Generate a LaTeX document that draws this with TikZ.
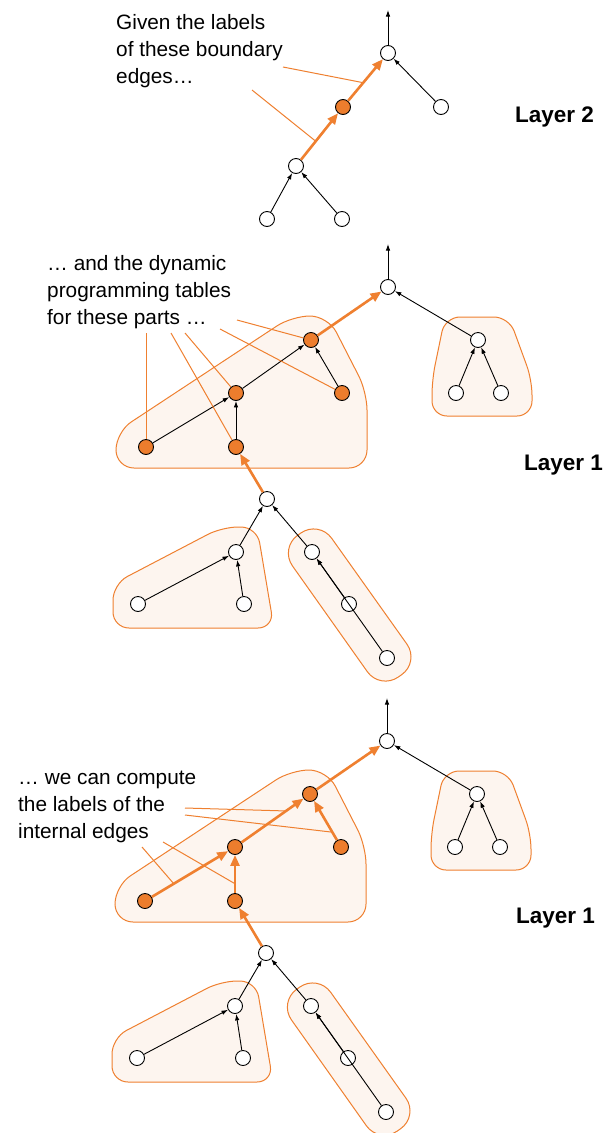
\documentclass[tikz,border=0pt]{standalone}
\usepackage{fontspec}
\setmainfont{Liberation Sans}
\usetikzlibrary{arrows.meta,calc}
\definecolor{org}{RGB}{239,128,48}
\definecolor{orgfill}{RGB}{237,125,45}
\definecolor{blobfill}{RGB}{253,245,239}
\tikzset{
  vtx/.style={circle,draw=black,line width=0.9pt,minimum size=15pt,inner sep=0pt,fill=white},
  ovtx/.style={vtx,fill=orgfill},
  blob/.style={draw=org,fill=blobfill,line width=1pt},
  barrow/.style={-{Latex[length=6.5pt,width=4.5pt]},line width=0.9pt,draw=black},
  oarrow/.style={-{Triangle[length=11pt,width=9pt]},line width=2.6pt,draw=org},
  pointer/.style={draw=org,line width=1pt},
  caption/.style={font=\fontsize{20.8}{27}\selectfont,align=left,anchor=base west,inner sep=0pt},
  layerlabel/.style={font=\fontsize{22.5}{27}\selectfont\bfseries,anchor=base west,inner sep=0pt},
}
% #1 prefix, #2 x shift, #3 y shift
\newcommand\treepanel[3]{%
  \begin{scope}[shift={(#2,#3)}]
    \draw[blob,rounded corners=18pt] (116,468) -- (116,432) -- (292,316) -- (328,316) -- (367,392) -- (367,468) -- cycle;
    \draw[blob,rounded corners=15pt] (445,317) -- (509,317) -- (532,380) -- (532,416) -- (432,416) -- (432,380) -- cycle;
    \draw[blob,rounded corners=16pt] (113,628) -- (113,584) -- (222,527) -- (257,527) -- (274,628) -- cycle;
    \draw[blob,rounded corners=22pt] (318.9,520.3) -- (419.7,662.1) -- (380.1,689.7) -- (279.7,547.9) -- cycle;
    \coordinate (#1top) at (388,244);
    \node[vtx] (#1G) at (388,287) {};
    \node[ovtx] (#1H1) at (311,340) {};
    \node[ovtx] (#1H2) at (342,393) {};
    \node[ovtx] (#1H3) at (236,393) {};
    \node[ovtx] (#1H4) at (146,447) {};
    \node[ovtx] (#1H5) at (236,447) {};
    \node[vtx] (#1R) at (478,340) {};
    \node[vtx] (#1R1) at (456,393) {};
    \node[vtx] (#1R2) at (501,393) {};
    \node[vtx] (#1J) at (267,499) {};
    \node[vtx] (#1K) at (236,552) {};
    \node[vtx] (#1L) at (312,552) {};
    \node[vtx] (#1K1) at (138,604) {};
    \node[vtx] (#1K2) at (244,604) {};
    \node[vtx] (#1L1) at (349,604) {};
    \node[vtx] (#1L2) at (387,658) {};
  \end{scope}
  \draw[barrow] (#1G) -- (#1top);
  \draw[oarrow] (#1H1) -- (#1G);
  \draw[barrow] (#1R) -- (#1G);
  \draw[barrow] (#1R1) -- (#1R);
  \draw[barrow] (#1R2) -- (#1R);
  \draw[oarrow] (#1J) -- (#1H5);
  \draw[barrow] (#1K) -- (#1J);
  \draw[barrow] (#1L) -- (#1J);
  \draw[barrow] (#1K1) -- (#1K);
  \draw[barrow] (#1K2) -- (#1K);
  \draw[barrow] (#1L1) -- (#1L);
  \draw[barrow] (#1L2) -- (#1L);
}

\begin{document}
\begin{tikzpicture}[x=1pt,y=-1pt]
  \fill[white] (0,0) rectangle (616,1133);
  \useasboundingbox (0,0) rectangle (616,1133);

  % ---------------- Layer 2 ----------------
  \coordinate (Atop) at (388,10);
  \node[vtx] (A) at (388,53) {};
  \node[ovtx] (B) at (343,107) {};
  \node[vtx] (C) at (441,107) {};
  \node[vtx] (D) at (296,166) {};
  \node[vtx] (E) at (267,219) {};
  \node[vtx] (F) at (342,219) {};
  \draw[barrow] (A) -- (Atop);
  \draw[oarrow] (B) -- (A);
  \draw[oarrow] (D) -- (B);
  \draw[barrow] (C) -- (A);
  \draw[barrow] (E) -- (D);
  \draw[barrow] (F) -- (D);
  \node[caption] (t2) at (116,83) {Given the labels\\of these boundary\\edges…};
  \coordinate (p21) at (283,67);
  \coordinate (p22) at (252,90);
  \draw[pointer] (p21) -- ($(B)!0.45!(A)$);
  \draw[pointer] (p22) -- ($(D)!0.42!(B)$);
  \node[layerlabel] (lab2) at (515,122) {Layer 2};

  % ---------------- Layer 1 (first) ----------------
  \treepanel{p}{0}{0}
  \draw[barrow] (pH4) -- (pH3);
  \draw[barrow] (pH5) -- (pH3);
  \draw[barrow] (pH3) -- (pH1);
  \draw[barrow] (pH2) -- (pH1);
  \node[caption] (t1) at (47,324) {… and the dynamic\\programming tables\\for these parts …};
  \coordinate (a1) at (237,320);
  \coordinate (a2) at (220,329);
  \coordinate (a3) at (185,333);
  \coordinate (a4) at (171,333);
  \coordinate (a5) at (146,333);
  \draw[pointer] (a1) -- (pH1);
  \draw[pointer] (a2) -- (pH2);
  \draw[pointer] (a3) -- (pH3);
  \draw[pointer] (a4) -- (pH5);
  \draw[pointer] (a5) -- (pH4);
  \node[layerlabel] (lab1a) at (524,470) {Layer 1};

  % ---------------- Layer 1 (second) ----------------
  \treepanel{q}{-1}{454}
  \draw[oarrow] (qH4) -- (qH3);
  \draw[oarrow] (qH5) -- (qH3);
  \draw[oarrow] (qH3) -- (qH1);
  \draw[oarrow] (qH2) -- (qH1);
  \node[caption] (t3) at (18,838) {… we can compute\\the labels of the\\internal edges};
  \coordinate (b1) at (185,808);
  \coordinate (b2) at (185,815);
  \coordinate (b3) at (142,847);
  \coordinate (b4) at (163,842);
  \draw[pointer] (b1) -- ($(qH3)!0.68!(qH1)$);
  \draw[pointer] (b2) -- ($(qH2)!0.28!(qH1)$);
  \draw[pointer] (b3) -- ($(qH4)!0.32!(qH3)$);
  \draw[pointer] (b4) -- ($(qH5)!0.32!(qH3)$);
  \node[layerlabel] (lab1b) at (516,923) {Layer 1};
\end{tikzpicture}
\end{document}
